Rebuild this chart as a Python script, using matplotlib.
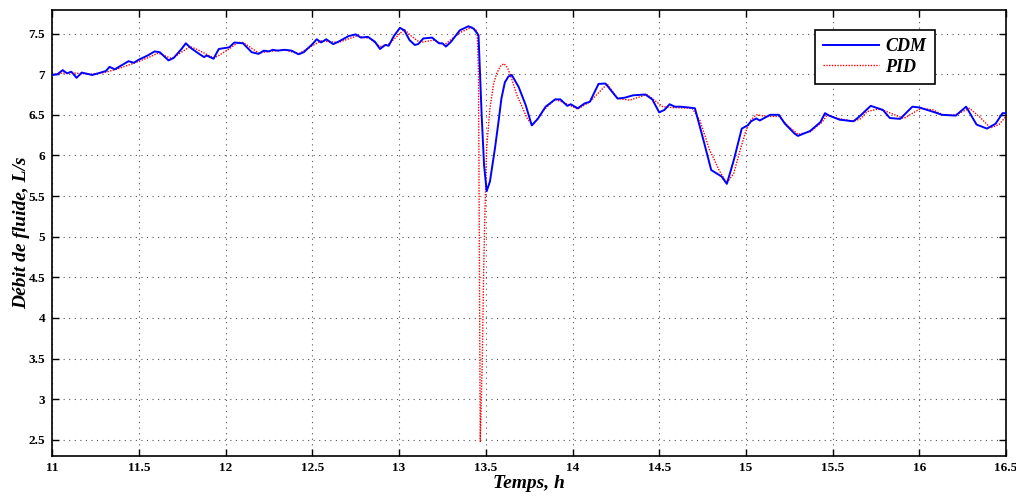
import matplotlib
matplotlib.use("Agg")
import matplotlib.pyplot as plt

# CDM (blue, solid)
cdm_t = [11.00, 11.03, 11.06, 11.085, 11.11, 11.14, 11.17, 11.21, 11.23, 11.28, 11.31, 11.33, 11.36,
         11.40, 11.44, 11.47, 11.50, 11.55, 11.59, 11.62, 11.67, 11.70, 11.745, 11.77, 11.80, 11.84,
         11.875, 11.89, 11.93, 11.96, 11.99, 12.02, 12.05, 12.10, 12.15, 12.19, 12.22, 12.25, 12.27,
         12.30, 12.34, 12.38, 12.42, 12.45, 12.50, 12.525, 12.55, 12.58, 12.62, 12.65, 12.71, 12.75,
         12.78, 12.82, 12.86, 12.89, 12.92, 12.94, 12.97, 13.005, 13.03, 13.06, 13.09, 13.11, 13.14,
         13.19, 13.23, 13.25, 13.27, 13.30, 13.35, 13.40, 13.43, 13.458, 13.476, 13.49, 13.505,
         13.524, 13.553, 13.573, 13.59, 13.61, 13.63, 13.65, 13.69, 13.73, 13.765, 13.80, 13.845,
         13.90, 13.93, 13.97, 13.99, 14.03, 14.07, 14.10, 14.15, 14.19, 14.26, 14.30, 14.35, 14.42,
         14.46, 14.50, 14.53, 14.56, 14.59, 14.62, 14.67, 14.706, 14.755, 14.80, 14.83, 14.86, 14.89,
         14.93, 14.976, 15.01, 15.03, 15.06, 15.08, 15.14, 15.19, 15.225, 15.28, 15.30, 15.37, 15.43,
         15.456, 15.48, 15.54, 15.62, 15.65, 15.70, 15.72, 15.79, 15.83, 15.89, 15.96, 16.00, 16.09,
         16.13, 16.21, 16.27, 16.33, 16.39, 16.44, 16.48, 16.50]
cdm_q = [6.99, 7.00, 7.05, 7.01, 7.03, 6.955, 7.02, 7.00, 6.99, 7.02, 7.04, 7.09, 7.06,
         7.11, 7.16, 7.14, 7.18, 7.23, 7.28, 7.27, 7.17, 7.20, 7.31, 7.38, 7.32, 7.26,
         7.21, 7.23, 7.19, 7.31, 7.32, 7.33, 7.39, 7.38, 7.27, 7.25, 7.29, 7.28, 7.30,
         7.29, 7.30, 7.29, 7.245, 7.27, 7.37, 7.43, 7.39, 7.43, 7.37, 7.40, 7.47, 7.49,
         7.45, 7.46, 7.40, 7.31, 7.36, 7.35, 7.47, 7.57, 7.54, 7.42, 7.36, 7.37, 7.44,
         7.45, 7.38, 7.38, 7.34, 7.40, 7.54, 7.59, 7.56, 7.48, 6.50, 5.88, 5.56,
         5.68, 6.09, 6.41, 6.70, 6.90, 6.97, 6.99, 6.84, 6.62, 6.37, 6.45, 6.60,
         6.69, 6.69, 6.61, 6.63, 6.58, 6.64, 6.66, 6.88, 6.885, 6.70, 6.71, 6.74, 6.75,
         6.69, 6.53, 6.56, 6.63, 6.60, 6.60, 6.59, 6.58, 6.19, 5.82, 5.78, 5.74, 5.65,
         5.94, 6.33, 6.37, 6.42, 6.455, 6.43, 6.50, 6.50, 6.39, 6.27, 6.24, 6.30, 6.41,
         6.52, 6.49, 6.44, 6.42, 6.47, 6.57, 6.61, 6.56, 6.46, 6.45, 6.60, 6.59, 6.53,
         6.50, 6.49, 6.60, 6.38, 6.33, 6.39, 6.52, 6.52]

# PID (red, dotted)
pid_t = [11.00, 11.05, 11.10, 11.15, 11.23, 11.30, 11.37, 11.45, 11.49, 11.56, 11.61, 11.645, 11.69,
         11.73, 11.795, 11.84, 11.93, 11.96, 12.02, 12.07, 12.10, 12.15, 12.19, 12.25, 12.34, 12.42,
         12.50, 12.55, 12.65, 12.755, 12.83, 12.89, 12.94, 13.00, 13.03, 13.07, 13.12, 13.20, 13.26,
         13.35, 13.42, 13.45, 13.458, 13.468, 13.48, 13.487, 13.495, 13.505, 13.524, 13.545, 13.563,
         13.585, 13.605, 13.625, 13.645, 13.68, 13.74, 13.77, 13.83, 13.90, 13.95, 14.03, 14.10,
         14.20, 14.26, 14.33, 14.43, 14.52, 14.57, 14.69, 14.735, 14.79, 14.85, 14.89, 14.93, 14.97,
         15.00, 15.03, 15.06, 15.12, 15.19, 15.245, 15.30, 15.37, 15.44, 15.47, 15.52, 15.62, 15.66,
         15.70, 15.76, 15.80, 15.91, 16.01, 16.08, 16.14, 16.21, 16.29, 16.35, 16.41, 16.46, 16.50]
pid_q = [6.99, 7.01, 7.02, 7.01, 7.00, 7.02, 7.06, 7.12, 7.15, 7.21, 7.26, 7.23, 7.19,
         7.25, 7.34, 7.30, 7.20, 7.23, 7.31, 7.39, 7.39, 7.32, 7.26, 7.28, 7.30, 7.25,
         7.35, 7.41, 7.39, 7.47, 7.44, 7.34, 7.37, 7.49, 7.55, 7.47, 7.39, 7.42, 7.36,
         7.51, 7.58, 7.53, 7.00, 2.48, 3.50, 4.50, 5.30, 6.09, 6.58, 6.88, 7.01,
         7.10, 7.13, 7.08, 6.97, 6.74, 6.45, 6.37, 6.55, 6.69, 6.65, 6.57, 6.66,
         6.88, 6.70, 6.68, 6.75, 6.60, 6.59, 6.58, 6.43, 6.07, 5.80, 5.66, 5.78, 6.09,
         6.30, 6.44, 6.50, 6.48, 6.48, 6.36, 6.26, 6.29, 6.41, 6.50, 6.46, 6.42, 6.45,
         6.54, 6.57, 6.55, 6.455, 6.58, 6.56, 6.495, 6.50, 6.58, 6.47, 6.34, 6.38, 6.48]

x_ticks = [11, 11.5, 12, 12.5, 13, 13.5, 14, 14.5, 15, 15.5, 16, 16.5]
x_labels = ["11", "11.5", "12", "12.5", "13", "13.5", "14", "14.5", "15", "15.5", "16", "16.5"]
y_ticks = [2.5, 3, 3.5, 4, 4.5, 5, 5.5, 6, 6.5, 7, 7.5]
y_labels = ["2.5", "3", "3.5", "4", "4.5", "5", "5.5", "6", "6.5", "7", "7.5"]

serif = ["Liberation Serif", "DejaVu Serif"]
plt.rcParams["font.family"] = serif

fig = plt.figure(figsize=(10.16, 4.96), dpi=100)
ax = fig.add_axes([52.3 / 1016, 1 - 456 / 496, (1006 - 52.3) / 1016, 446 / 496])

ax.plot(cdm_t, cdm_q, color="#0000ff", lw=1.4, ls="-", label="CDM", zorder=3)
ax.plot(pid_t, pid_q, color="#ff0000", lw=1.0, ls=(0, (1, 1)), label="PID", zorder=2)

ax.set_xlim(11, 16.5)
ax.set_ylim(2.3, 7.79)
ax.set_xticks(x_ticks)
ax.set_xticklabels(x_labels)
ax.set_yticks(y_ticks)
ax.set_yticklabels(y_labels)

ax.grid(True, color="#555555", ls=(0, (1, 4)), lw=0.8)
ax.tick_params(direction="in", top=True, right=True, length=5, width=1.0,
               labelsize=9.5)
ax.tick_params(axis="x", pad=4)
ax.tick_params(axis="y", pad=5)
for lab in ax.get_xticklabels() + ax.get_yticklabels():
    lab.set_fontweight("bold")
for sp in ax.spines.values():
    sp.set_linewidth(1.2)

ax.set_xlabel("Temps, h", fontsize=14, fontweight="bold", fontstyle="italic", labelpad=1)
ax.set_ylabel("Débit de fluide, L/s", fontsize=14, fontweight="bold", fontstyle="italic", labelpad=-1)

leg = ax.legend(loc="upper left", bbox_to_anchor=(815 / 1016, 1 - 30 / 496),
                bbox_transform=fig.transFigure, borderaxespad=0, fancybox=False, framealpha=1,
                edgecolor="black", handlelength=3.1, handletextpad=0.35, borderpad=0.45,
                labelspacing=0.2,
                prop={"family": serif, "weight": "bold", "style": "italic", "size": 13})
leg.get_frame().set_linewidth(1.2)

fig.savefig("out.png", dpi=100)
